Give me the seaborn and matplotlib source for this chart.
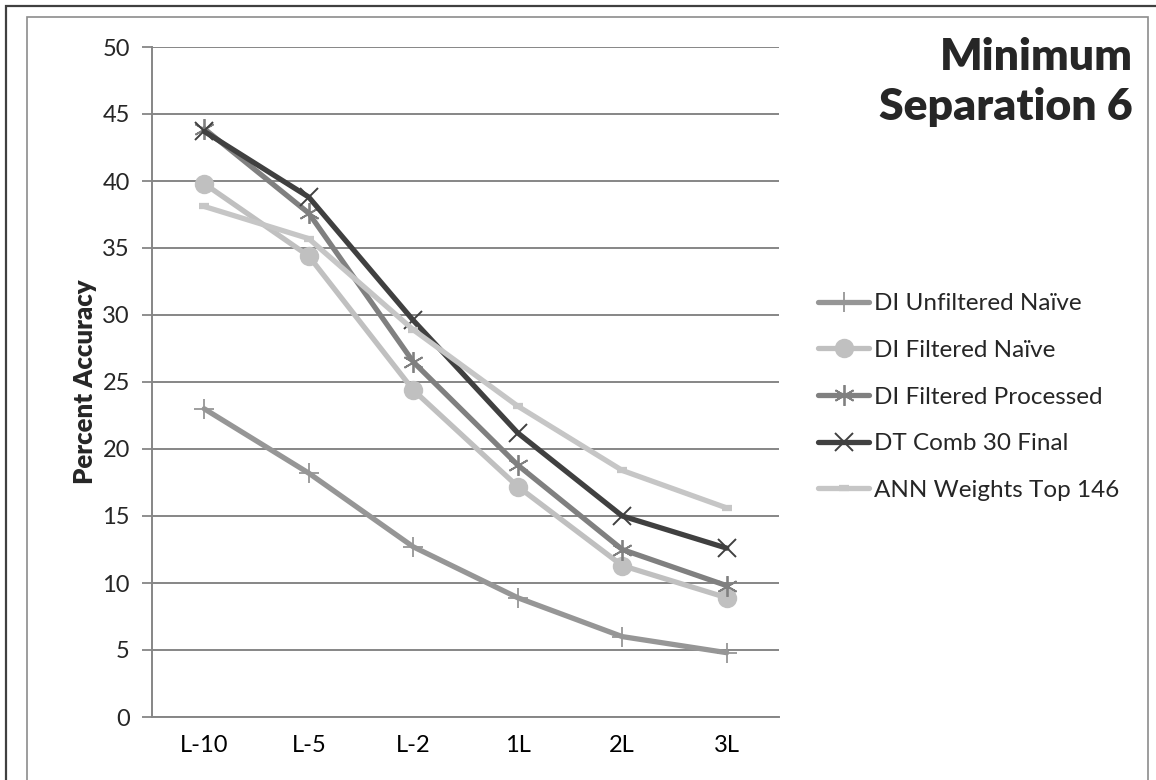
import matplotlib
matplotlib.use("Agg")
import numpy as np
import pandas as pd
import matplotlib.pyplot as plt
import seaborn as sns
from matplotlib.patches import Rectangle
from matplotlib.lines import Line2D

# Accuracy by look-ahead setting, minimum separation 6
categories = ["L-10", "L-5", "L-2", "1L", "2L", "3L"]
di_unfiltered_naive = [23.0, 18.2, 12.7, 8.9, 6.0, 4.8]
di_filtered_naive = [39.8, 34.4, 24.4, 17.2, 11.3, 8.9]
di_filtered_processed = [43.9, 37.6, 26.5, 18.8, 12.5, 9.8]
dt_comb_30_final = [43.7, 38.8, 29.6, 21.2, 15.0, 12.6]
ann_weights_top_146 = [38.1, 35.7, 28.9, 23.2, 18.4, 15.6]
series_names = ["DI Unfiltered Naïve", "DI Filtered Naïve", "DI Filtered Processed",
                "DT Comb 30 Final", "ANN Weights Top 146"]
y_ticks = list(range(0, 55, 5))

series_values = [di_unfiltered_naive, di_filtered_naive, di_filtered_processed,
                 dt_comb_30_final, ann_weights_top_146]

rows = []
for name, vals in zip(series_names, series_values):
    for c, v in zip(categories, vals):
        rows.append({"series": name, "category": c, "value": v})
df = pd.DataFrame(rows)
df["pos"] = df["category"].map({c: i for i, c in enumerate(categories)})

sns.set_theme(style="white")
plt.rcParams["font.family"] = ["Lato", "DejaVu Sans"]

styles = {
    "DI Unfiltered Naïve": dict(color="#969696", marker="+", ms=14, mew=1.3, mec="#969696", mfc="#969696"),
    "DI Filtered Naïve": dict(color="#c0c0c0", marker="o", ms=14, mew=0, mec="#c0c0c0", mfc="#c0c0c0"),
    "DI Filtered Processed": dict(color="#808080", marker=(6, 2, 0), ms=15, mew=1.3, mec="#808080", mfc="#808080"),
    "DT Comb 30 Final": dict(color="#404040", marker="x", ms=13, mew=1.4, mec="#404040", mfc="#404040"),
    "ANN Weights Top 146": dict(color="#c6c6c6", marker="_", ms=7, mew=4.5, mec="#c6c6c6", mfc="#c6c6c6"),
}
LW = 3.8
FS = 17

fig = plt.figure(figsize=(11.56, 7.8), dpi=100)
W, H = 1156, 780

# Chart frame borders
fig.patches.append(Rectangle((6 / W, -0.1), 1.2, (H - 6) / H + 0.1, transform=fig.transFigure,
                             fill=False, ec="#404040", lw=1.6, zorder=0))
fig.patches.append(Rectangle((27 / W, -0.1), (1148 - 27) / W, (H - 17) / H + 0.1,
                             transform=fig.transFigure, fill=False, ec="#8c8c8c", lw=1.2, zorder=0))

ax = fig.add_axes([152 / W, 1 - 717 / H, (779 - 152) / W, (717 - 47) / H])

for name in series_names:
    st = styles[name]
    sub = df[df["series"] == name]
    sns.lineplot(data=sub, x="pos", y="value", ax=ax, sort=False, color=st["color"],
                 lw=LW, marker=st["marker"], markersize=st["ms"], markeredgewidth=st["mew"],
                 markeredgecolor=st["mec"], markerfacecolor=st["mfc"],
                 solid_joinstyle="round", legend=False, zorder=3)

ax.set_xlim(-0.5, len(categories) - 0.5)
ax.set_ylim(0, 50)
ax.set_yticks(y_ticks)
ax.set_yticklabels([str(t) for t in y_ticks])
ax.set_xticks(range(len(categories)))
ax.set_xticklabels(categories)
ax.set_xticks(np.arange(-0.5, len(categories)), minor=True)
ax.tick_params(axis="x", which="major", length=0, pad=13, labelsize=FS, colors="#000000")
ax.tick_params(axis="x", which="minor", length=7, width=1.3, color="#868686", direction="out")
ax.tick_params(axis="y", which="major", length=7, width=1.3, color="#868686", direction="out",
               pad=9, labelsize=FS, left=True)
ax.grid(axis="y", color="#868686", lw=1.4, zorder=0)
ax.grid(axis="x", visible=False)
ax.set_axisbelow(True)
for s in ["top", "right"]:
    ax.spines[s].set_visible(False)
for s in ["left", "bottom"]:
    ax.spines[s].set_color("#868686")
    ax.spines[s].set_linewidth(1.4)
ax.set_xlabel("")
ax.set_ylabel("Percent Accuracy", fontsize=18.5, fontweight="heavy", labelpad=4)

# Legend
handles = []
for name in series_names:
    st = styles[name]
    handles.append(Line2D([0], [0], color=st["color"], lw=LW, marker=st["marker"],
                          markersize=st["ms"], markeredgewidth=st["mew"],
                          markeredgecolor=st["mec"], markerfacecolor=st["mfc"],
                          solid_capstyle="round"))
fig.legend(handles, series_names, loc="center left", bbox_to_anchor=(806 / W, 1 - 397 / H),
           frameon=False, fontsize=17.5, handlelength=2.1, handletextpad=0.2,
           labelspacing=1.05, borderpad=0)

# Title block
fig.text(1133 / W, 1 - 57 / H, "Minimum", ha="right", va="center", fontsize=32, fontweight="heavy")
fig.text(1133 / W, 1 - 107 / H, "Separation 6", ha="right", va="center", fontsize=32, fontweight="heavy")

fig.savefig("out.png", dpi=100)
